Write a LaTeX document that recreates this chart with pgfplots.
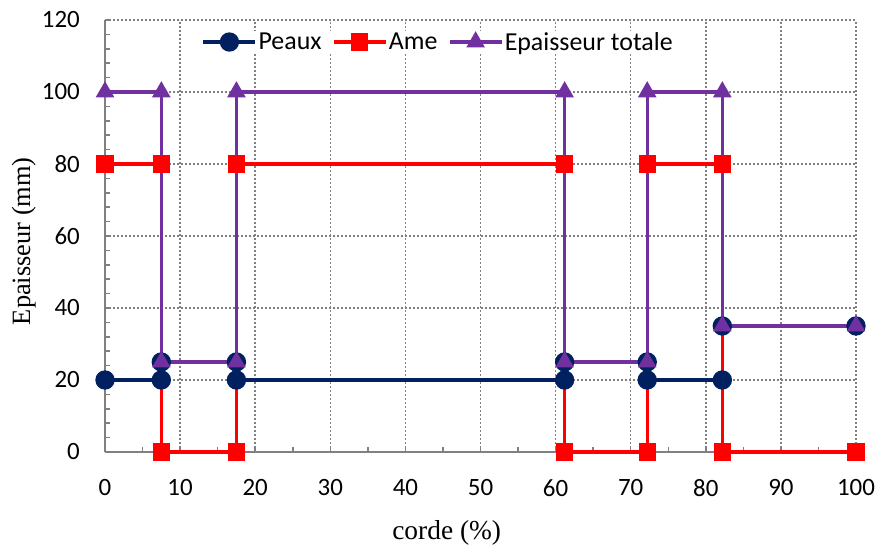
\documentclass[border=0pt]{standalone}
\usepackage{pgfplots}
\pgfplotsset{compat=1.18}
\usepackage{fontspec}
\setmainfont{Liberation Serif}
\newfontfamily\calfont{Carlito}
\definecolor{navy}{HTML}{002060}
\definecolor{purp}{HTML}{7030A0}
\begin{document}
\begin{tikzpicture}
\begin{axis}[
  scale only axis,
  width=751bp, height=432bp,
  xmin=0, xmax=100, ymin=0, ymax=120,
  xtick={0,10,...,100}, ytick={0,20,...,120},
  minor x tick num=1, minor y tick num=4,
  tick pos=left, tick align=inside,
  major tick length=6bp, minor tick length=5bp,
  every tick/.style={gray, line width=1.5bp},
  axis x line*=bottom, axis y line*=left,
  axis line style={gray, line width=2bp},
  grid=major,
  major grid style={gray, line width=1.5bp, dash pattern=on 2bp off 2bp},
  tick label style={font=\calfont\fontsize{25}{30}\selectfont},
  /pgf/number format/assume math mode=true,
  yticklabel style={inner sep=0pt, xshift=-25bp},
  xticklabel style={inner sep=0pt, yshift=-27bp},
  xlabel={corde (\%)}, ylabel={Epaisseur (mm)},
  xlabel style={font=\fontsize{27.5}{32}\selectfont, at={(axis description cs:0.455,-0.1875)}, anchor=center},
  ylabel style={font=\fontsize{26.5}{32}\selectfont, at={(axis description cs:-0.108,0.488)}, anchor=center},
  clip=false,
  legend columns=-1,
  legend style={at={(axis description cs:0.4434,0.949)}, anchor=center, draw=none, fill=white,
    font=\calfont\fontsize{26}{30}\selectfont, inner sep=0pt,
    nodes={inner sep=1.5bp},
    /tikz/every even column/.append style={column sep=9bp}},
  legend image code/.code={\draw[mark repeat=2,mark phase=2,#1] plot coordinates {(0bp,0bp) (26bp,0bp) (52bp,0bp)};},
]
\addplot[navy, line width=3.3bp, mark=*, mark size=8bp, mark options={solid}] coordinates {
 (0,20) (7.5,20) (7.5,25) (17.5,25) (17.5,20) (61.2,20) (61.2,25) (72.2,25) (72.2,20) (82.2,20) (82.2,35) (100,35)};
\addlegendentry{Peaux}
\addplot[red, line width=3.3bp, mark=square*, mark size=7bp, mark options={solid}] coordinates {
 (0,80) (7.5,80) (7.5,0) (17.5,0) (17.5,80) (61.2,80) (61.2,0) (72.2,0) (72.2,80) (82.2,80) (82.2,0) (100,0)};
\addlegendentry{Ame}
\addplot[purp, line width=3.3bp, mark=triangle*, mark size=7.5bp, mark options={solid}] coordinates {
 (0,100) (7.5,100) (7.5,25) (17.5,25) (17.5,100) (61.2,100) (61.2,25) (72.2,25) (72.2,100) (82.2,100) (82.2,35) (100,35)};
\addlegendentry{Epaisseur totale}
\end{axis}
\path ([shift={(-105bp,-95bp)}]current axis.south west) rectangle ([shift={(24bp,20bp)}]current axis.north east);
\end{tikzpicture}
\end{document}
